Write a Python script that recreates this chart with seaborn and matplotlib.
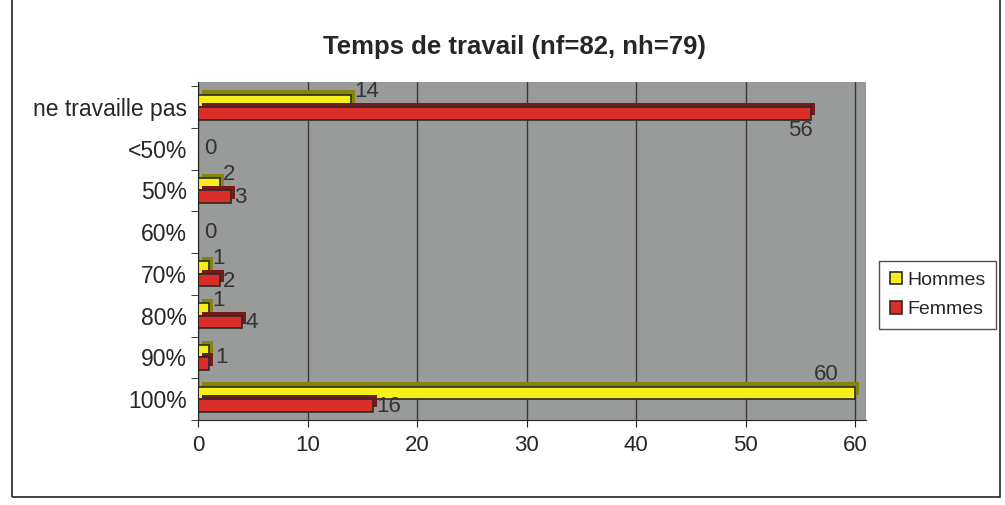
import pandas as pd
import numpy as np
import seaborn as sns
import matplotlib.pyplot as plt
import matplotlib.patheffects as pe
from matplotlib.patches import Rectangle

# categories and counts
categories = ["ne travaille pas", "<50%", "50%", "60%", "70%", "80%", "90%", "100%"]
hommes = [14, 0, 2, 0, 1, 1, 1, 60]
femmes = [56, 0, 3, 0, 2, 4, 1, 16]
series = ["Hommes", "Femmes"]
colors = {"Hommes": "#f6f01a", "Femmes": "#dc2e28"}

df = pd.DataFrame({
    "temps": categories * 2,
    "n": hommes + femmes,
    "sexe": [series[0]] * len(categories) + [series[1]] * len(categories),
})

sns.set_style("white")
plt.rcParams['font.family'] = ['Liberation Sans', 'DejaVu Sans']

fig = plt.figure(figsize=(10.05, 5.05), dpi=100)
ax = fig.add_axes([198 / 1005, 1 - 420 / 505, (866 - 198) / 1005, (420 - 82) / 505])
ax.set_facecolor("#999b9b")

sns.barplot(data=df, y="temps", x="n", hue="sexe", order=categories,
            hue_order=series, palette=colors, orient="h", width=0.6, saturation=1,
            edgecolor="#2a2a2a", linewidth=1.2, ax=ax)

ax.legend(loc="center left", bbox_to_anchor=(1.02, 0.37), fontsize=14,
          frameon=True, fancybox=False, edgecolor="#222222", handlelength=0.6,
          handleheight=0.6, handletextpad=0.3, borderpad=0.55, labelspacing=0.65,
          borderaxespad=0)

# fake 3D depth for the bars
for patch in ax.patches:
    fc = patch.get_facecolor()
    dark = tuple(c * 0.55 for c in fc[:3])
    patch.set_path_effects([pe.SimplePatchShadow(offset=(3, 3), shadow_rgbFace=dark, alpha=1),
                            pe.Normal()])

# value labels
lab = dict(fontsize=16, color="#333333")
for i, (h, f) in enumerate(zip(hommes, femmes)):
    if h == f:
        ax.text(max(h, 0) + 0.6, i, str(h), ha="left", va="center", **lab)
        continue
    if h > 50:
        ax.text(h - 1.5, i - 0.33, str(h), ha="right", va="bottom", **lab)
    else:
        ax.text(h + 0.3, i - 0.12, str(h), ha="left", va="bottom", **lab)
    if f > 50:
        ax.text(f - 1, i + 0.32, str(f), ha="center", va="top", **lab)
    else:
        ax.text(f + 0.3, i + 0.17, str(f), ha="left", va="center", **lab)

ax.set_xlim(0, 61)
ax.set_ylim(7.5, -0.6)
ax.set_xticks([0, 10, 20, 30, 40, 50, 60])
ax.grid(axis="x", color="#3a3a3a", linewidth=1)
ax.set_axisbelow(True)
ax.set_xlabel("")
ax.set_ylabel("")
ax.tick_params(axis="x", labelsize=16, length=5, color="#222222", bottom=True, pad=6)
ax.tick_params(axis="y", labelsize=16.5, length=0, pad=8)
ax.set_yticks(np.arange(-0.5, 8, 1), minor=True)
ax.tick_params(axis="y", which="minor", length=5, left=True, color="#222222")
for side in ["top", "right"]:
    ax.spines[side].set_visible(False)
ax.spines["left"].set_color("#222222")
ax.spines["bottom"].set_color("#222222")

ax.set_title("Temps de travail (nf=82, nh=79)", fontsize=18.5, fontweight="bold",
             pad=20, x=0.473)

fig.patches.append(Rectangle((12 / 1005, 8 / 505), 988 / 1005, 1.1, transform=fig.transFigure,
                             fill=False, edgecolor="#222222", linewidth=1.2))

plt.savefig("out.png", dpi=100)
